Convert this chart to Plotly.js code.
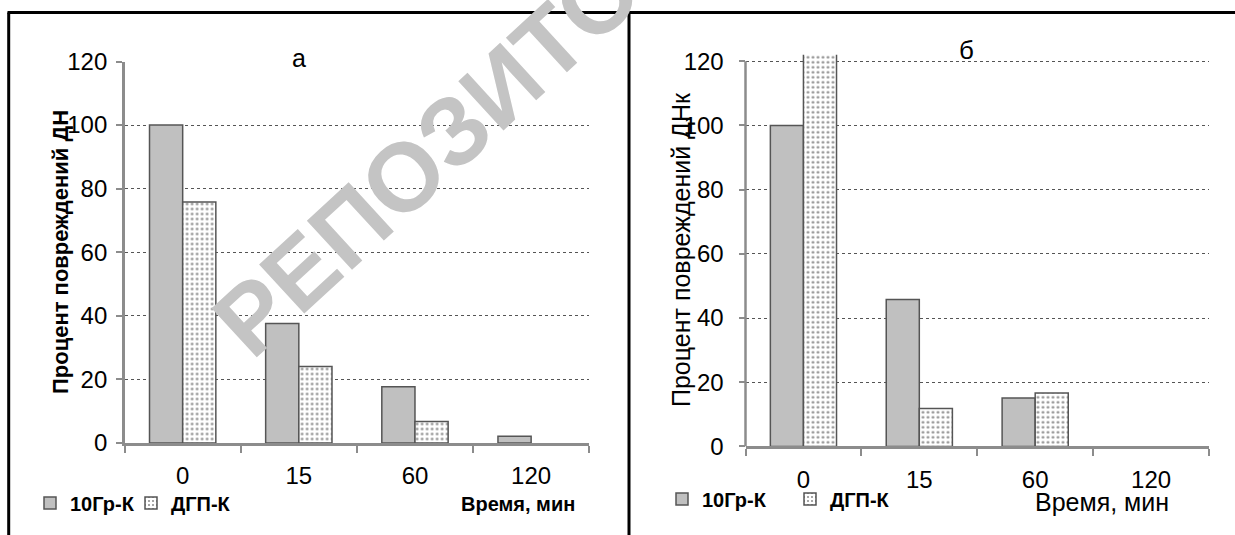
<!DOCTYPE html>
<html><head><meta charset="utf-8">
<script src="https://cdn.plot.ly/plotly-3.0.1.min.js"></script>
<style>html,body{margin:0;padding:0;background:#fff}#chart{width:1235px;height:535px}</style>
</head><body><div id="chart"></div>
<script>
// ---- data ----
const categories = ['0', '15', '60', '120'];
const seriesNames = ['10Гр-К', 'ДГП-К'];
const panelA_10Gr = [100, 37.6, 17.7, 2.1];
const panelA_DGP  = [75.8, 24.1, 6.8, null];
const panelB_10Gr = [100, 45.8, 15.1, null];
const panelB_DGP  = [125, 11.8, 16.6, null];
const yTickVals = [0, 20, 40, 60, 80, 100, 120];
const panelTitles = ['а', 'б'];
const yTitles = ['Процент повреждений ДН', 'Процент повреждений ДНк'];
const xTitle = 'Время, мин';
const watermark = 'РЕПОЗИТОРИЙ';

// ---- style ----
const FONT = 'Liberation Sans, Arial, sans-serif';
const W = 1235, H = 535;
const px = v => v / W;
const py = v => 1 - v / H;
const axisGray = '#8c8c8c';
const barLine = {color: '#555', width: 1.5};
const grayMarker = {color: '#c0c0c0', line: barLine};
const dotMarker = {color: 'white', line: barLine,
  pattern: {shape: '.', fgcolor: '#888', bgcolor: 'white', size: 5, solidity: 0.2}};

const traces = [
  {type: 'bar', x: categories, y: panelA_10Gr, name: seriesNames[0], marker: grayMarker, xaxis: 'x', yaxis: 'y', legend: 'legend'},
  {type: 'bar', x: categories, y: panelA_DGP, name: seriesNames[1], marker: dotMarker, xaxis: 'x', yaxis: 'y', legend: 'legend'},
  {type: 'bar', x: categories, y: panelB_10Gr, name: seriesNames[0], marker: grayMarker, xaxis: 'x2', yaxis: 'y2', legend: 'legend2'},
  {type: 'bar', x: categories, y: panelB_DGP, name: seriesNames[1], marker: dotMarker, xaxis: 'x2', yaxis: 'y2', legend: 'legend2'}
];

function xAxis(domain, anchor, size, standoff) {
  return {domain, anchor, type: 'category', tickson: 'boundaries', ticks: 'outside', ticklen: 7, tickwidth: 2,
    tickcolor: axisGray, showline: true, linecolor: axisGray, linewidth: 2.5, showgrid: false, zeroline: false,
    tickfont: {family: FONT, size, color: '#000'}, ticklabelstandoff: standoff, fixedrange: true};
}
function yAxis(domain, anchor, range, size, standoff, showline) {
  return {domain, anchor, range, tickvals: yTickVals, ticks: 'outside', ticklen: 6, tickwidth: 2, tickcolor: axisGray,
    showline, linecolor: axisGray, linewidth: 2.5, showgrid: true, gridcolor: '#555', griddash: 'dot', gridwidth: 1,
    zeroline: false, tickfont: {family: FONT, size, color: '#000'}, ticklabelstandoff: standoff, fixedrange: true};
}
function note(text, x, y, size, extra) {
  return Object.assign({text, xref: 'paper', yref: 'paper', x: px(x), y: py(y), xanchor: 'center', yanchor: 'middle',
    showarrow: false, font: {family: FONT, size, color: '#000'}}, extra || {});
}

const layout = {
  width: W, height: H, margin: {l: 0, r: 0, t: 0, b: 0},
  paper_bgcolor: 'white', plot_bgcolor: 'white',
  barmode: 'group', bargap: 0.429, bargroupgap: 0,
  xaxis: xAxis([px(124.6), px(589.2)], 'y', 24, 10),
  yaxis: yAxis([py(443), py(61.5)], 'x', [0, 120], 24, 4, true),
  xaxis2: xAxis([px(745.5), px(1209)], 'y2', 24, 10),
  yaxis2: yAxis([py(446.4), py(54.8)], 'x2', [0, 122], 24, 10, false),
  legend: {orientation: 'h', x: px(30), xanchor: 'left', y: py(503), yanchor: 'middle',
    font: {family: FONT, size: 20, weight: 'bold', color: '#000'}, entrywidthmode: 'pixels', entrywidth: 56,
    bgcolor: 'rgba(0,0,0,0)', itemclick: false, itemdoubleclick: false},
  legend2: {orientation: 'h', x: px(662), xanchor: 'left', y: py(499), yanchor: 'middle',
    font: {family: FONT, size: 20, weight: 'bold', color: '#000'}, entrywidthmode: 'pixels', entrywidth: 83,
    bgcolor: 'rgba(0,0,0,0)', itemclick: false, itemdoubleclick: false},
  shapes: [
    {type: 'line', xref: 'x2 domain', yref: 'y2', x0: 0, x1: 0, y0: 0, y1: 120, line: {color: axisGray, width: 2.5}},
    {type: 'line', xref: 'paper', yref: 'paper', x0: px(7.5), x1: 1, y0: py(12.5), y1: py(12.5), line: {color: '#000', width: 3}},
    {type: 'line', xref: 'paper', yref: 'paper', x0: px(8.7), x1: px(8.7), y0: 0, y1: py(12.5), line: {color: '#000', width: 3}},
    {type: 'line', xref: 'paper', yref: 'paper', x0: px(629), x1: px(629), y0: 0, y1: py(12.5), line: {color: '#000', width: 3}}
  ],
  annotations: [
    note(panelTitles[0], 299, 58, 25),
    note(panelTitles[1], 966, 50, 26),
    note('<b>' + yTitles[0] + '</b>', 60, 252, 22, {textangle: -90}),
    note(yTitles[1], 681, 250, 25, {textangle: -90}),
    note('<b>' + xTitle + '</b>', 518, 504, 20),
    note(xTitle, 1102, 502, 25),
    note('<b>' + watermark + '</b>', 502, 87, 97, {textangle: -42.6, font: {family: FONT, size: 97, color: '#c4c4c4'}})
  ]
};

Plotly.newPlot('chart', traces, layout, {displayModeBar: false, staticPlot: true});
</script>
</body></html>
